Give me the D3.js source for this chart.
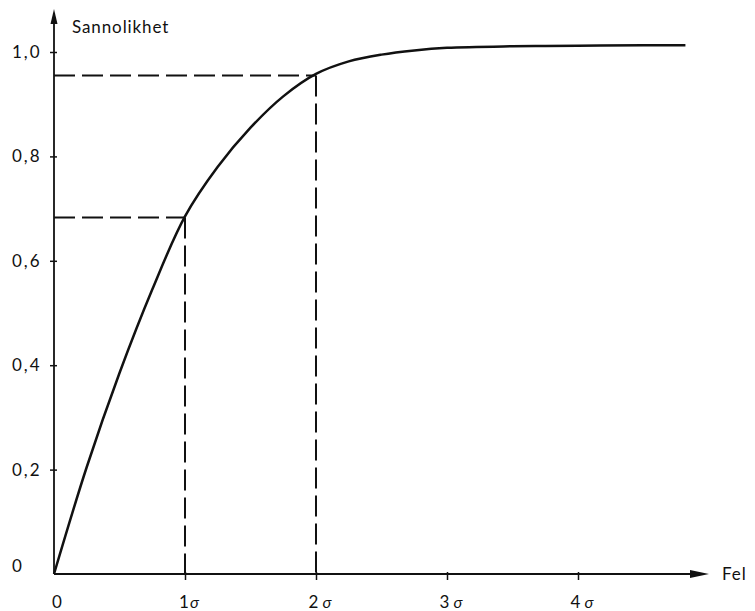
<!DOCTYPE html>
<html>
<head>
<meta charset="utf-8">
<script src="https://cdn.jsdelivr.net/npm/d3@7"></script>
<style>
  body { margin: 0; background: #fff; }
  text { font-family: "Lato", "DejaVu Sans", sans-serif; fill: #111; }
</style>
</head>
<body>
<div id="chart"></div>
<script>
// felet i enheter av sigma, och sannolikheten avläst från kurvan
const felSigma = [0, 0.25, 0.5, 0.75, 1, 1.25, 1.5, 1.75, 2, 2.25, 2.5, 2.75, 3, 3.5, 4, 4.5, 4.82];
const sannolikhet = [0, 0.205, 0.385, 0.545, 0.685, 0.78, 0.855, 0.915, 0.958, 0.982, 0.995, 1.003, 1.008, 1.011, 1.012, 1.013, 1.013];

const xTicks = [0, 1, 2, 3, 4];
const xTickLabels = ["0", "1", "2", "3", "4"];
const yTicks = [0, 0.2, 0.4, 0.6, 0.8, 1.0];
const yTickLabels = ["0", "0,2", "0,4", "0,6", "0,8", "1,0"];

// streckade hjälplinjer vid 1 och 2 sigma
const markSigma = [1, 2];
const markProb = [0.683, 0.955];

const W = 755, H = 611;

const svg = d3.select("#chart")
    .append("svg")
    .attr("width", W)
    .attr("height", H);

const x = d3.scaleLinear()
    .domain([0, 4])
    .range([54, 578]);

const y = d3.scaleLinear()
    .domain([0, 1])
    .range([574, 52]);

// y-axel
const yAxis = svg.append("g")
    .attr("transform", `translate(${x(0)},0)`)
    .call(d3.axisLeft(y).tickValues(yTicks.slice(1)).tickSize(4).tickFormat(""));
yAxis.select(".domain").remove();
yAxis.selectAll(".tick line").attr("x1", 3).attr("stroke", "#111").attr("stroke-width", 1.5);

svg.append("line")
    .attr("x1", x(0)).attr("x2", x(0))
    .attr("y1", y(0)).attr("y2", 20)
    .attr("stroke", "#111").attr("stroke-width", 1.8);
svg.append("path")
    .attr("d", `M${x(0)},9 L${x(0) - 3.5},24 L${x(0) + 3.5},24 Z`)
    .attr("fill", "#111");

svg.selectAll(".ylab")
    .data(yTicks)
    .enter()
    .append("text")
    .attr("class", "ylab")
    .attr("x", 12)
    .attr("y", d => y(d) + (d === 0 ? -2 : 6))
    .attr("font-size", 17)
    .attr("letter-spacing", 2)
    .text((d, i) => yTickLabels[i]);

svg.append("text")
    .attr("x", 72)
    .attr("y", 33)
    .attr("font-size", 17)
    .attr("letter-spacing", 0.9)
    .text("Sannolikhet");

// x-axel
const xAxis = svg.append("g")
    .attr("transform", `translate(0,${y(0)})`)
    .call(d3.axisBottom(x).tickValues(xTicks.slice(1)).tickSize(6).tickFormat(""));
xAxis.select(".domain").remove();
xAxis.selectAll(".tick line").attr("y1", -2).attr("stroke", "#111").attr("stroke-width", 1.5);

svg.append("line")
    .attr("x1", x(0)).attr("x2", 695)
    .attr("y1", y(0)).attr("y2", y(0))
    .attr("stroke", "#111").attr("stroke-width", 1.8);
svg.append("path")
    .attr("d", `M709,${y(0)} L690,${y(0) - 4} L690,${y(0) + 4} Z`)
    .attr("fill", "#111");

svg.append("text")
    .attr("x", 722)
    .attr("y", y(0) + 6)
    .attr("font-size", 17)
    .attr("letter-spacing", 1)
    .text("Fel");

const xl = svg.selectAll(".xlab")
    .data(xTicks)
    .enter()
    .append("text")
    .attr("class", "xlab")
    .attr("x", d => x(d) + (d === 0 ? 3 : 4))
    .attr("y", 608)
    .attr("text-anchor", "middle")
    .attr("font-size", 17);
xl.append("tspan").text((d, i) => xTickLabels[i]);
xl.filter(d => d > 0).append("tspan")
    .attr("dx", d => d === 1 ? 1 : 4)
    .attr("font-size", 16)
    .attr("font-style", "italic")
    .text("σ");

// streckade linjer
markSigma.forEach((s, i) => {
    svg.append("line")
        .attr("x1", x(0)).attr("x2", x(s))
        .attr("y1", y(markProb[i])).attr("y2", y(markProb[i]))
        .attr("stroke", "#111").attr("stroke-width", 2)
        .attr("stroke-dasharray", "21,7");
    svg.append("line")
        .attr("x1", x(s)).attr("x2", x(s))
        .attr("y1", y(markProb[i])).attr("y2", y(0))
        .attr("stroke", "#111").attr("stroke-width", 2)
        .attr("stroke-dasharray", "21,7");
});

// kurvan
const line = d3.line()
    .x((d, i) => x(felSigma[i]))
    .y(d => y(d))
    .curve(d3.curveCatmullRom.alpha(0.5));

svg.append("path")
    .datum(sannolikhet)
    .attr("d", line)
    .attr("fill", "none")
    .attr("stroke", "#111")
    .attr("stroke-width", 2.5);
</script>
</body>
</html>
